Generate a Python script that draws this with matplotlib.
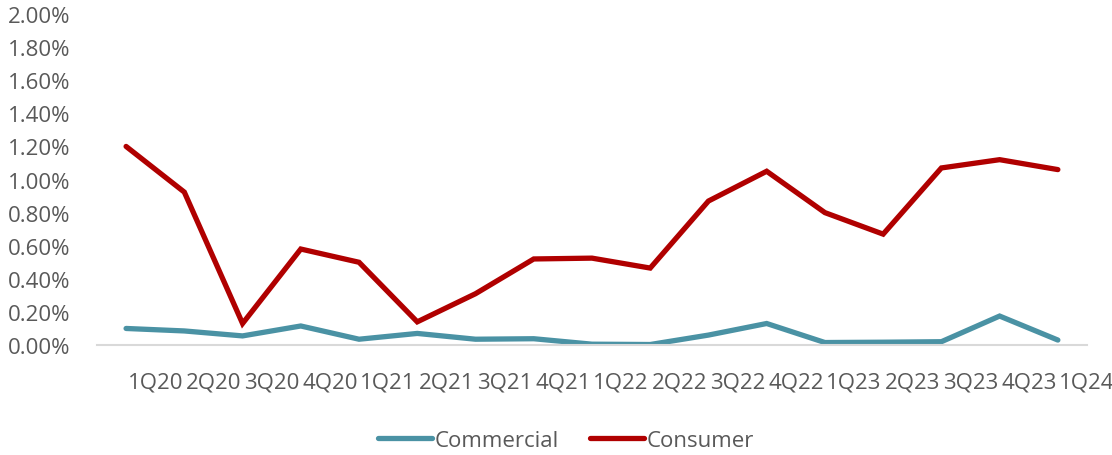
import matplotlib
matplotlib.use("Agg")
import matplotlib.pyplot as plt
from matplotlib.ticker import FuncFormatter
import numpy as np

quarters = ["1Q20", "2Q20", "3Q20", "4Q20", "1Q21", "2Q21", "3Q21", "4Q21",
            "1Q22", "2Q22", "3Q22", "4Q22", "1Q23", "2Q23", "3Q23", "4Q23", "1Q24"]
commercial = [0.100, 0.085, 0.055, 0.115, 0.035, 0.070, 0.035, 0.038,
              0.005, 0.003, 0.060, 0.130, 0.015, 0.017, 0.020, 0.175, 0.030]
consumer = [1.20, 0.924, 0.13, 0.58, 0.50, 0.14, 0.31, 0.52,
            0.525, 0.465, 0.87, 1.05, 0.80, 0.67, 1.07, 1.12, 1.06]

plt.rcParams["font.family"] = ["Open Sans", "DejaVu Sans"]
grey = "#595959"

fig = plt.figure(figsize=(11.12, 4.56), dpi=100)
ax = fig.add_axes([0.0872, 0.2412, 0.8903, 0.7258])

x = np.arange(len(quarters))
ax.plot(x, commercial, color="#4A92A4", lw=3.8, solid_capstyle="round",
        solid_joinstyle="miter", label="Commercial")
ax.plot(x, consumer, color="#B00000", lw=3.8, solid_capstyle="round",
        solid_joinstyle="miter", label="Consumer")

ax.set_xlim(-0.5, len(quarters) - 0.5)
ax.set_ylim(0, 2.0)
ax.set_yticks(np.arange(0, 2.01, 0.2))
ax.yaxis.set_major_formatter(FuncFormatter(lambda v, p: f"{v:.2f}%"))

# category labels sit half a step to the right of each point
ax.set_xticks(x + 0.5)
ax.set_xticklabels(quarters)

ax.tick_params(axis="both", length=0, labelsize=16, labelcolor=grey)
ax.tick_params(axis="y", pad=19)
ax.tick_params(axis="x", pad=19)

for s in ["top", "right", "left"]:
    ax.spines[s].set_visible(False)
ax.spines["bottom"].set_color("#D9D9D9")
ax.spines["bottom"].set_linewidth(1.5)

leg = fig.legend(loc="lower center", bbox_to_anchor=(0.509, -0.035), ncol=2,
                 frameon=False, fontsize=16, handlelength=2.45,
                 handletextpad=0.1, columnspacing=1.4)
for t in leg.get_texts():
    t.set_color(grey)

fig.savefig("out.png", dpi=100)
